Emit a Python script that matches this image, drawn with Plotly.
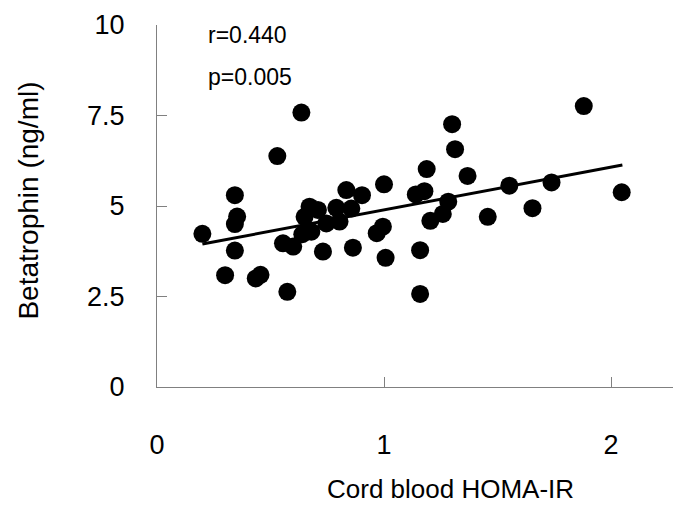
import plotly.graph_objects as go

homa_ir = [0.20, 0.30, 0.343, 0.353, 0.343, 0.343, 0.435, 0.456, 0.53, 0.636,
           0.574, 0.555, 0.60, 0.672, 0.709, 0.65, 0.746, 0.804, 0.68, 0.64,
           0.731, 0.834, 0.903, 0.79, 0.856, 0.863, 1.0, 0.995, 0.968, 1.007,
           1.14, 1.178, 1.188, 1.30, 1.313, 1.368, 1.283, 1.259, 1.204, 1.159,
           1.159, 1.457, 1.552, 1.654, 1.738, 1.88, 2.047]
betatrophin = [4.23, 3.09, 5.30, 4.71, 4.50, 3.77, 3.00, 3.10, 6.38, 7.58,
               2.63, 3.97, 3.88, 4.98, 4.89, 4.70, 4.52, 4.57, 4.29, 4.22,
               3.74, 5.44, 5.30, 4.95, 4.93, 3.85, 5.60, 4.43, 4.25, 3.57,
               5.32, 5.41, 6.02, 7.26, 6.57, 5.83, 5.12, 4.78, 4.59, 3.78,
               2.57, 4.70, 5.56, 4.94, 5.65, 7.76, 5.38]
trend_x = [0.20, 2.05]
trend_y = [3.95, 6.13]
x_ticks = [0, 1, 2]
y_ticks = [0, 2.5, 5, 7.5, 10]
stats_text = ["r=0.440", "p=0.005"]

FONT = "Liberation Sans, Arial, sans-serif"

fig = go.Figure()
fig.add_trace(go.Scatter(x=homa_ir, y=betatrophin, mode="markers",
                         marker=dict(color="black", size=18, line=dict(width=0)),
                         cliponaxis=False, showlegend=False))
fig.add_trace(go.Scatter(x=trend_x, y=trend_y, mode="lines",
                         line=dict(color="black", width=3), showlegend=False))

axis_common = dict(showgrid=False, zeroline=False, showline=True,
                   linecolor="#808080", linewidth=1, ticks="inside",
                   ticklen=10, tickcolor="#808080", tickwidth=1,
                   tickfont=dict(family=FONT, size=27, color="black"))

fig.update_xaxes(range=[0, 2.273], tickvals=x_ticks, ticklabelstandoff=34,
                 **axis_common)
fig.update_yaxes(range=[0, 10], tickvals=y_ticks, ticklabelstandoff=26,
                 **axis_common)

fig.add_annotation(x=0.216, y=9.73, xref="x", yref="y", text=stats_text[0],
                   showarrow=False, xanchor="left", yanchor="middle",
                   font=dict(family=FONT, size=23, color="black"))
fig.add_annotation(x=0.216, y=8.55, xref="x", yref="y", text=stats_text[1],
                   showarrow=False, xanchor="left", yanchor="middle",
                   font=dict(family=FONT, size=23, color="black"))
fig.add_annotation(x=1.295, y=-0.282, xref="x", yref="paper",
                   text="Cord blood HOMA-IR", showarrow=False,
                   xanchor="center", yanchor="middle",
                   font=dict(family=FONT, size=26, color="black"))
fig.add_annotation(x=-0.248, y=0.515, xref="paper", yref="paper",
                   text="Betatrophin (ng/ml)", showarrow=False, textangle=-90,
                   xanchor="center", yanchor="middle",
                   font=dict(family=FONT, size=28, color="black"))

fig.update_layout(width=673, height=506, plot_bgcolor="white",
                  paper_bgcolor="white",
                  margin=dict(l=157, r=0, t=25, b=119),
                  font=dict(family=FONT, color="black"))

fig.write_html("out.html",
               config={"displayModeBar": False},
               post_script="document.body.style.margin='0';"
                           "document.body.style.overflow='hidden';")
